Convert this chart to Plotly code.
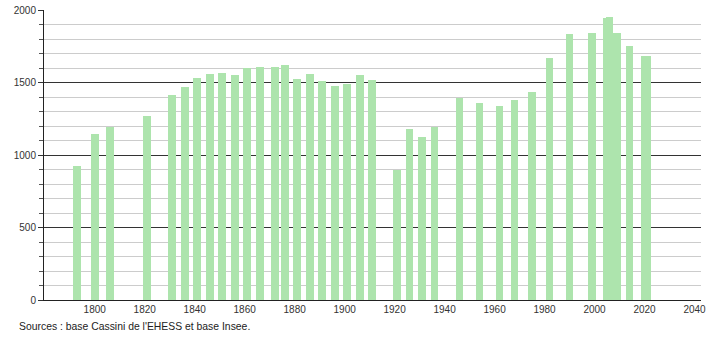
import plotly.graph_objects as go

years = [1793, 1800, 1806, 1821, 1831, 1836, 1841, 1846, 1851, 1856, 1861, 1866,
         1872, 1876, 1881, 1886, 1891, 1896, 1901, 1906, 1911, 1921, 1926, 1931,
         1936, 1946, 1954, 1962, 1968, 1975, 1982, 1990, 1999, 2005, 2006, 2009,
         2014, 2020, 2021]
population = [927, 1146, 1194, 1266, 1415, 1468, 1533, 1560, 1569, 1553, 1600, 1606,
              1608, 1622, 1526, 1560, 1512, 1477, 1491, 1553, 1519, 895, 1180, 1125,
              1194, 1392, 1357, 1339, 1376, 1436, 1671, 1834, 1843, 1945, 1955, 1843,
              1749, 1684, 1684]
x_ticks = [1800, 1820, 1840, 1860, 1880, 1900, 1920, 1940, 1960, 1980, 2000, 2020, 2040]
y_ticks = [0, 500, 1000, 1500, 2000]
source_text = "Sources : base Cassini de l'EHESS et base Insee."

fig = go.Figure()
fig.add_trace(go.Bar(
    x=years, y=population, width=3.1,
    marker=dict(color="#ade4ad", line=dict(width=0)),
    hoverinfo="x+y",
))

fig.update_layout(
    width=710, height=340,
    margin=dict(l=44, r=9, t=10, b=40),
    paper_bgcolor="white", plot_bgcolor="white",
    showlegend=False,
    bargap=0,
    font=dict(family="Liberation Sans, Arial, sans-serif", size=10, color="#333333"),
    xaxis=dict(
        range=[1779.7, 2042.6],
        tickvals=x_ticks,
        ticks="", showgrid=False,
        showline=True, linecolor="#222222", linewidth=1,
        zeroline=False, automargin=False,
        tickfont=dict(size=10, color="#333333"),
    ),
    yaxis=dict(
        range=[0, 2000],
        tickvals=y_ticks,
        ticks="outside", ticklen=5, tickcolor="#333333",
        showgrid=True, gridcolor="#333333", gridwidth=1,
        showline=True, linecolor="#222222", linewidth=1,
        zeroline=False, automargin=False,
        tickfont=dict(size=10, color="#333333"),
        minor=dict(dtick=100, showgrid=True, gridcolor="#cccccc", gridwidth=1,
                   ticks="outside", ticklen=4, tickcolor="#555555"),
    ),
    annotations=[dict(
        text=source_text, xref="paper", yref="paper",
        x=-0.041, y=-0.066, xanchor="left", yanchor="top",
        showarrow=False, font=dict(size=10.4, color="#222222"),
    )],
)

fig.write_html("out.html")
